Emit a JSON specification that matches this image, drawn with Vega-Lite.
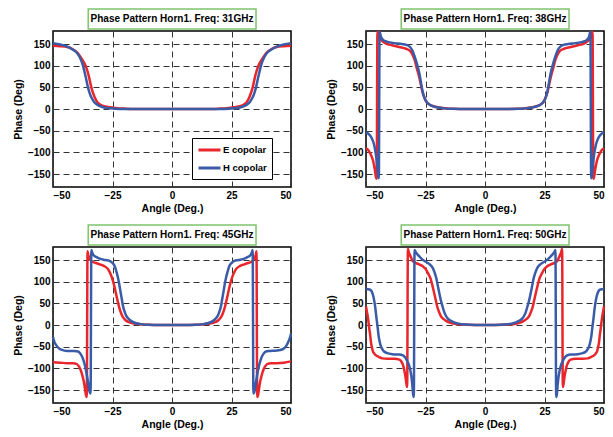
{
  "$schema": "https://vega.github.io/schema/vega-lite/v6.json",
  "padding": {"left": 12, "top": 7, "right": 4, "bottom": 4},
  "background": "white",
  "datasets": {
    "f31E": [{"a":-50,"p":146},{"a":-47,"p":145},{"a":-44,"p":143},{"a":-42,"p":139},{"a":-40,"p":131},{"a":-38.8,"p":123},{"a":-37.5,"p":112},{"a":-36.3,"p":100},{"a":-35,"p":77},{"a":-33.9,"p":50},{"a":-32.5,"p":27},{"a":-31.5,"p":17},{"a":-30.4,"p":11},{"a":-28,"p":6},{"a":-26,"p":4},{"a":-23,"p":2},{"a":-20,"p":1},{"a":-15,"p":0},{"a":-10,"p":0},{"a":0,"p":0},{"a":10,"p":0},{"a":15,"p":0},{"a":20,"p":1},{"a":23,"p":2},{"a":26,"p":4},{"a":28,"p":6},{"a":30.4,"p":11},{"a":31.5,"p":17},{"a":32.5,"p":27},{"a":33.9,"p":50},{"a":35,"p":77},{"a":36.3,"p":100},{"a":37.5,"p":112},{"a":38.8,"p":123},{"a":40,"p":131},{"a":42,"p":139},{"a":44,"p":143},{"a":47,"p":145},{"a":50,"p":146}],
    "f31H": [{"a":-50,"p":152},{"a":-47,"p":149},{"a":-44,"p":144},{"a":-42,"p":138},{"a":-40.2,"p":131},{"a":-38.8,"p":120},{"a":-37.4,"p":100},{"a":-36.3,"p":75},{"a":-35.3,"p":50},{"a":-34.5,"p":35},{"a":-33.9,"p":27},{"a":-32.8,"p":17},{"a":-31.8,"p":11.5},{"a":-30,"p":6},{"a":-29,"p":4},{"a":-26,"p":1.5},{"a":-24,"p":0.5},{"a":-20,"p":0},{"a":0,"p":0},{"a":20,"p":0},{"a":24,"p":0.5},{"a":26,"p":1.5},{"a":29,"p":4},{"a":30,"p":6},{"a":31.8,"p":11.5},{"a":32.8,"p":17},{"a":33.9,"p":27},{"a":34.5,"p":35},{"a":35.3,"p":50},{"a":36.3,"p":75},{"a":37.4,"p":100},{"a":38.8,"p":120},{"a":40.2,"p":131},{"a":42,"p":138},{"a":44,"p":144},{"a":47,"p":149},{"a":50,"p":152}],
    "f38E": [{"a":-50,"p":-91},{"a":-49,"p":-95},{"a":-48,"p":-105},{"a":-47,"p":-120},{"a":-46.3,"p":-140},{"a":-45.8,"p":-158},{"a":-45.5,"p":-161},{"a":-45.2,"p":178},{"a":-44.4,"p":165},{"a":-43.5,"p":158},{"a":-41.6,"p":151},{"a":-39,"p":147},{"a":-36,"p":143},{"a":-33.2,"p":139},{"a":-31.5,"p":134},{"a":-30.5,"p":126},{"a":-29.5,"p":112},{"a":-28.7,"p":95},{"a":-27.7,"p":75},{"a":-26.9,"p":55},{"a":-26.3,"p":40},{"a":-25.5,"p":27},{"a":-24.8,"p":18},{"a":-23.5,"p":11},{"a":-22,"p":7},{"a":-20,"p":4},{"a":-17,"p":2},{"a":-13,"p":0.5},{"a":-8,"p":0},{"a":0,"p":0},{"a":8,"p":0},{"a":13,"p":0.5},{"a":17,"p":2},{"a":20,"p":4},{"a":22,"p":7},{"a":23.5,"p":11},{"a":24.8,"p":18},{"a":25.5,"p":27},{"a":26.3,"p":40},{"a":26.9,"p":55},{"a":27.7,"p":75},{"a":28.7,"p":95},{"a":29.5,"p":112},{"a":30.5,"p":126},{"a":31.5,"p":134},{"a":33.2,"p":139},{"a":36,"p":143},{"a":39,"p":147},{"a":41.6,"p":151},{"a":43.5,"p":158},{"a":44.4,"p":165},{"a":45.2,"p":178},{"a":45.5,"p":-161},{"a":45.8,"p":-158},{"a":46.3,"p":-140},{"a":47,"p":-120},{"a":48,"p":-105},{"a":49,"p":-95},{"a":50,"p":-91}],
    "f38H": [{"a":-50,"p":-54},{"a":-49,"p":-57},{"a":-48,"p":-63},{"a":-47,"p":-75},{"a":-46.3,"p":-90},{"a":-45.6,"p":-115},{"a":-45.1,"p":-140},{"a":-44.8,"p":-158},{"a":-44.6,"p":-160},{"a":-44.3,"p":178},{"a":-43.7,"p":166},{"a":-42.5,"p":158},{"a":-41,"p":155},{"a":-38,"p":152},{"a":-35,"p":150},{"a":-33,"p":148},{"a":-31.5,"p":143},{"a":-30.5,"p":135},{"a":-29.5,"p":120},{"a":-28.4,"p":100},{"a":-27.5,"p":80},{"a":-26.8,"p":58},{"a":-26.2,"p":40},{"a":-25.4,"p":25},{"a":-24.5,"p":16},{"a":-23,"p":9},{"a":-21,"p":5},{"a":-18,"p":2},{"a":-14,"p":0.5},{"a":-8,"p":0},{"a":0,"p":0},{"a":8,"p":0},{"a":14,"p":0.5},{"a":18,"p":2},{"a":21,"p":5},{"a":23,"p":9},{"a":24.5,"p":16},{"a":25.4,"p":25},{"a":26.2,"p":40},{"a":26.8,"p":58},{"a":27.5,"p":80},{"a":28.4,"p":100},{"a":29.5,"p":120},{"a":30.5,"p":135},{"a":31.5,"p":143},{"a":33,"p":148},{"a":35,"p":150},{"a":38,"p":152},{"a":41,"p":155},{"a":42.5,"p":158},{"a":43.7,"p":166},{"a":44.3,"p":178},{"a":44.6,"p":-160},{"a":44.8,"p":-158},{"a":45.1,"p":-140},{"a":45.6,"p":-115},{"a":46.3,"p":-90},{"a":47,"p":-75},{"a":48,"p":-63},{"a":49,"p":-57},{"a":50,"p":-54}],
    "f45E": [{"a":-50,"p":-86},{"a":-47,"p":-87},{"a":-44,"p":-88},{"a":-41.5,"p":-88},{"a":-40,"p":-90},{"a":-39.2,"p":-95},{"a":-38.5,"p":-102},{"a":-38,"p":-110},{"a":-37.5,"p":-120},{"a":-37,"p":-132},{"a":-36.5,"p":-150},{"a":-36.1,"p":-163},{"a":-35.8,"p":-166},{"a":-35.5,"p":170},{"a":-35.2,"p":162},{"a":-34.8,"p":156},{"a":-33.9,"p":148},{"a":-32,"p":143},{"a":-30.4,"p":140},{"a":-28.5,"p":136},{"a":-26.9,"p":129},{"a":-26,"p":120},{"a":-24.8,"p":102},{"a":-23.9,"p":82},{"a":-23.2,"p":64},{"a":-22.6,"p":50},{"a":-22,"p":37},{"a":-21.3,"p":26},{"a":-20.6,"p":18},{"a":-19.5,"p":11},{"a":-17.8,"p":6},{"a":-15.5,"p":3},{"a":-13.5,"p":1.5},{"a":-10,"p":0.5},{"a":-5,"p":0},{"a":0,"p":0},{"a":5,"p":0},{"a":10,"p":0.5},{"a":13.5,"p":1.5},{"a":15.5,"p":3},{"a":17.8,"p":6},{"a":19.5,"p":11},{"a":20.6,"p":18},{"a":21.3,"p":26},{"a":22,"p":37},{"a":22.6,"p":50},{"a":23.2,"p":64},{"a":23.9,"p":82},{"a":24.8,"p":102},{"a":26,"p":120},{"a":26.9,"p":129},{"a":28.5,"p":136},{"a":30.4,"p":140},{"a":32,"p":143},{"a":33.9,"p":148},{"a":34.8,"p":156},{"a":35.2,"p":162},{"a":35.5,"p":170},{"a":35.8,"p":-166},{"a":36.1,"p":-163},{"a":36.5,"p":-150},{"a":37,"p":-132},{"a":37.5,"p":-120},{"a":38,"p":-110},{"a":38.5,"p":-102},{"a":39.2,"p":-95},{"a":40,"p":-90},{"a":41.5,"p":-88},{"a":44,"p":-88},{"a":47,"p":-87},{"a":50,"p":-84}],
    "f45H": [{"a":-50,"p":-28},{"a":-49.5,"p":-38},{"a":-48.6,"p":-47},{"a":-47.5,"p":-54},{"a":-46.5,"p":-57},{"a":-44,"p":-60},{"a":-41,"p":-60},{"a":-39.5,"p":-61},{"a":-38.5,"p":-66},{"a":-37.4,"p":-78},{"a":-36.6,"p":-93},{"a":-36,"p":-109},{"a":-35.4,"p":-128},{"a":-34.9,"p":-145},{"a":-34.5,"p":-156},{"a":-34.2,"p":-158},{"a":-33.9,"p":173},{"a":-33.5,"p":167},{"a":-32.9,"p":161},{"a":-31.5,"p":156},{"a":-30.4,"p":153},{"a":-28,"p":150},{"a":-26.2,"p":148},{"a":-25,"p":143},{"a":-24.1,"p":136},{"a":-23.3,"p":122},{"a":-22.7,"p":109},{"a":-22.2,"p":95},{"a":-21.7,"p":79},{"a":-21.1,"p":60},{"a":-20.6,"p":44},{"a":-19.9,"p":31},{"a":-19.2,"p":21},{"a":-18.2,"p":14},{"a":-17.1,"p":9},{"a":-15,"p":4},{"a":-13,"p":2},{"a":-10,"p":0.5},{"a":-5,"p":0},{"a":0,"p":0},{"a":5,"p":0},{"a":10,"p":0.5},{"a":13,"p":2},{"a":15,"p":4},{"a":17.1,"p":9},{"a":18.2,"p":14},{"a":19.2,"p":21},{"a":19.9,"p":31},{"a":20.6,"p":44},{"a":21.1,"p":60},{"a":21.7,"p":79},{"a":22.2,"p":95},{"a":22.7,"p":109},{"a":23.3,"p":122},{"a":24.1,"p":136},{"a":25,"p":143},{"a":26.2,"p":148},{"a":28,"p":150},{"a":30.4,"p":153},{"a":31.5,"p":156},{"a":32.9,"p":161},{"a":33.5,"p":167},{"a":33.9,"p":173},{"a":34.2,"p":-158},{"a":34.5,"p":-156},{"a":34.9,"p":-145},{"a":35.4,"p":-128},{"a":36,"p":-109},{"a":36.6,"p":-93},{"a":37.4,"p":-78},{"a":38.5,"p":-66},{"a":39.5,"p":-61},{"a":41,"p":-60},{"a":44,"p":-59},{"a":46.5,"p":-56},{"a":47.5,"p":-52},{"a":48.6,"p":-42},{"a":49.5,"p":-30},{"a":50,"p":-20}],
    "f50E": [{"a":-50,"p":43},{"a":-49.6,"p":30},{"a":-49.3,"p":21},{"a":-48.9,"p":5},{"a":-48.6,"p":-9},{"a":-48.2,"p":-25},{"a":-47.9,"p":-40},{"a":-47.5,"p":-52},{"a":-47.2,"p":-59},{"a":-46.5,"p":-66},{"a":-45.8,"p":-70},{"a":-44.5,"p":-74},{"a":-43.2,"p":-77},{"a":-41,"p":-78},{"a":-38,"p":-78},{"a":-36,"p":-80},{"a":-35.3,"p":-83},{"a":-34.8,"p":-88},{"a":-34.3,"p":-95},{"a":-33.9,"p":-105},{"a":-33.5,"p":-116},{"a":-33.2,"p":-128},{"a":-32.9,"p":-139},{"a":-32.7,"p":-143},{"a":-32.4,"p":176},{"a":-32,"p":168},{"a":-31.6,"p":162},{"a":-31,"p":155},{"a":-30.4,"p":148},{"a":-29,"p":143},{"a":-27.7,"p":140},{"a":-26,"p":135},{"a":-24.9,"p":129},{"a":-23.8,"p":118},{"a":-22.8,"p":106},{"a":-22.1,"p":91},{"a":-21.4,"p":75},{"a":-20.7,"p":58},{"a":-20,"p":41},{"a":-19.3,"p":30},{"a":-18.6,"p":21},{"a":-17.5,"p":14},{"a":-16.5,"p":10},{"a":-14.5,"p":5},{"a":-12.3,"p":2},{"a":-10,"p":1},{"a":-5,"p":0},{"a":0,"p":0},{"a":5,"p":0},{"a":10,"p":1},{"a":12.3,"p":2},{"a":14.5,"p":5},{"a":16.5,"p":10},{"a":17.5,"p":14},{"a":18.6,"p":21},{"a":19.3,"p":30},{"a":20,"p":41},{"a":20.7,"p":58},{"a":21.4,"p":75},{"a":22.1,"p":91},{"a":22.8,"p":106},{"a":23.8,"p":118},{"a":24.9,"p":129},{"a":26,"p":135},{"a":27.7,"p":140},{"a":29,"p":143},{"a":30.4,"p":148},{"a":31,"p":155},{"a":31.6,"p":162},{"a":32,"p":168},{"a":32.4,"p":176},{"a":32.7,"p":-143},{"a":32.9,"p":-139},{"a":33.2,"p":-128},{"a":33.5,"p":-116},{"a":33.9,"p":-105},{"a":34.3,"p":-95},{"a":34.8,"p":-88},{"a":35.3,"p":-83},{"a":36,"p":-80},{"a":38,"p":-78},{"a":41,"p":-78},{"a":43.2,"p":-77},{"a":44.5,"p":-74},{"a":45.8,"p":-70},{"a":46.5,"p":-66},{"a":47.2,"p":-59},{"a":47.5,"p":-52},{"a":47.9,"p":-40},{"a":48.2,"p":-25},{"a":48.6,"p":-9},{"a":48.9,"p":5},{"a":49.3,"p":21},{"a":49.6,"p":30},{"a":50,"p":43}],
    "f50H": [{"a":-50,"p":83},{"a":-48.5,"p":82},{"a":-47.9,"p":80},{"a":-47.2,"p":72},{"a":-46.6,"p":58},{"a":-46.1,"p":40},{"a":-45.6,"p":16},{"a":-45.1,"p":-6},{"a":-44.7,"p":-25},{"a":-44.2,"p":-40},{"a":-43.7,"p":-50},{"a":-43,"p":-57},{"a":-42.2,"p":-62},{"a":-40.2,"p":-66},{"a":-38,"p":-68},{"a":-36,"p":-68},{"a":-34.5,"p":-70},{"a":-33.5,"p":-75},{"a":-32.8,"p":-82},{"a":-31.9,"p":-93},{"a":-31.3,"p":-107},{"a":-30.8,"p":-124},{"a":-30.5,"p":-140},{"a":-30.2,"p":-160},{"a":-29.9,"p":-166},{"a":-29.6,"p":173},{"a":-29.1,"p":168},{"a":-28.4,"p":163},{"a":-27.7,"p":159},{"a":-26.5,"p":152},{"a":-24.9,"p":146},{"a":-23.5,"p":141},{"a":-22.1,"p":133},{"a":-21.3,"p":123},{"a":-20.5,"p":109},{"a":-19.9,"p":93},{"a":-19.3,"p":76},{"a":-18.6,"p":58},{"a":-17.9,"p":44},{"a":-17.2,"p":31},{"a":-16.5,"p":22},{"a":-15.5,"p":14},{"a":-14.4,"p":10},{"a":-13,"p":6},{"a":-11,"p":3},{"a":-8,"p":1},{"a":-4,"p":0},{"a":0,"p":0},{"a":4,"p":0},{"a":8,"p":1},{"a":11,"p":3},{"a":13,"p":6},{"a":14.4,"p":10},{"a":15.5,"p":14},{"a":16.5,"p":22},{"a":17.2,"p":31},{"a":17.9,"p":44},{"a":18.6,"p":58},{"a":19.3,"p":76},{"a":19.9,"p":93},{"a":20.5,"p":109},{"a":21.3,"p":123},{"a":22.1,"p":133},{"a":23.5,"p":141},{"a":24.9,"p":146},{"a":26.5,"p":152},{"a":27.7,"p":159},{"a":28.4,"p":163},{"a":29.1,"p":168},{"a":29.6,"p":173},{"a":29.9,"p":-166},{"a":30.2,"p":-160},{"a":30.5,"p":-140},{"a":30.8,"p":-124},{"a":31.3,"p":-107},{"a":31.9,"p":-93},{"a":32.8,"p":-82},{"a":33.5,"p":-75},{"a":34.5,"p":-70},{"a":36,"p":-68},{"a":38,"p":-68},{"a":40.2,"p":-66},{"a":42.2,"p":-62},{"a":43,"p":-57},{"a":43.7,"p":-50},{"a":44.2,"p":-40},{"a":44.7,"p":-25},{"a":45.1,"p":-6},{"a":45.6,"p":16},{"a":46.1,"p":40},{"a":46.6,"p":58},{"a":47.2,"p":72},{"a":47.9,"p":80},{"a":48.5,"p":82},{"a":50,"p":83}]
  },
  "columns": 2,
  "spacing": {"row": 60, "column": 75},
  "bounds": "flush",
  "resolve": {"scale": {"color": "shared"}, "legend": {"color": "shared"}},
  "concat": [
    {
      "width": 238, "height": 156,
      "layer": [
        {"data": {"name": "f31E"}, "mark": {"type": "line", "interpolate": "monotone", "strokeWidth": 2.5},
         "encoding": {"x": {"field": "a", "type": "quantitative", "title": "Angle (Deg.)", "scale": {"domain": [-50, 50], "nice": false}, "axis": {"values": [-50, -25, 0, 25, 50], "tickCount": 10}},
                      "y": {"field": "p", "type": "quantitative", "title": "Phase (Deg)", "scale": {"domain": [-180, 180], "nice": false}, "axis": {"values": [-150, -100, -50, 0, 50, 100, 150], "tickCount": 10}},
                      "color": {"datum": "E copolar", "scale": {"domain": ["E copolar", "H copolar"], "range": ["#e8262b", "#3a5ba8"]},
                                "legend": {"orient": "none", "legendX": 139, "legendY": 107, "title": null, "symbolType": "M-1,0H3", "symbolSize": 121, "symbolStrokeWidth": 3, "labelOffset": 12, "labelFont": "Liberation Sans", "labelFontWeight": "bold", "labelFontSize": 9.5, "labelColor": "black", "fillColor": "white", "strokeColor": "black", "padding": 5, "rowPadding": 5}}}},
        {"data": {"name": "f31H"}, "mark": {"type": "line", "interpolate": "monotone", "strokeWidth": 2.5},
         "encoding": {"x": {"field": "a", "type": "quantitative", "title": "Angle (Deg.)"}, "y": {"field": "p", "type": "quantitative", "title": "Phase (Deg)"}, "color": {"datum": "H copolar"}}},
        {"data": {"values": [{}]}, "mark": {"type": "rect", "fill": "white", "stroke": "#7ec46e", "strokeWidth": 1.5},
         "encoding": {"x": {"datum": -35.2}, "x2": {"datum": 35.3}, "y": {"datum": 230.8}, "y2": {"datum": 184.6}}},
        {"data": {"values": [{}]}, "mark": {"type": "text", "font": "Liberation Sans", "fontWeight": "bold", "fontSize": 10, "baseline": "middle", "color": "black"},
         "encoding": {"x": {"datum": 0}, "y": {"datum": 207.7}, "text": {"value": "Phase Pattern Horn1. Freq: 31GHz"}}}
      ]
    },
    {
      "width": 238, "height": 156,
      "layer": [
        {"data": {"name": "f38E"}, "mark": {"type": "line", "interpolate": "monotone", "strokeWidth": 2.5},
         "encoding": {"x": {"field": "a", "type": "quantitative", "title": "Angle (Deg.)", "scale": {"domain": [-50, 50], "nice": false}, "axis": {"values": [-50, -25, 0, 25, 50], "tickCount": 10}},
                      "y": {"field": "p", "type": "quantitative", "title": "Phase (Deg)", "scale": {"domain": [-180, 180], "nice": false}, "axis": {"values": [-150, -100, -50, 0, 50, 100, 150], "tickCount": 10}},
                      "color": {"datum": "E copolar"}}},
        {"data": {"name": "f38H"}, "mark": {"type": "line", "interpolate": "monotone", "strokeWidth": 2.5},
         "encoding": {"x": {"field": "a", "type": "quantitative", "title": "Angle (Deg.)"}, "y": {"field": "p", "type": "quantitative", "title": "Phase (Deg)"}, "color": {"datum": "H copolar"}}},
        {"data": {"values": [{}]}, "mark": {"type": "rect", "fill": "white", "stroke": "#7ec46e", "strokeWidth": 1.5},
         "encoding": {"x": {"datum": -35.2}, "x2": {"datum": 35.3}, "y": {"datum": 230.8}, "y2": {"datum": 184.6}}},
        {"data": {"values": [{}]}, "mark": {"type": "text", "font": "Liberation Sans", "fontWeight": "bold", "fontSize": 10, "baseline": "middle", "color": "black"},
         "encoding": {"x": {"datum": 0}, "y": {"datum": 207.7}, "text": {"value": "Phase Pattern Horn1. Freq: 38GHz"}}}
      ]
    },
    {
      "width": 238, "height": 156,
      "layer": [
        {"data": {"name": "f45E"}, "mark": {"type": "line", "interpolate": "monotone", "strokeWidth": 2.5},
         "encoding": {"x": {"field": "a", "type": "quantitative", "title": "Angle (Deg.)", "scale": {"domain": [-50, 50], "nice": false}, "axis": {"values": [-50, -25, 0, 25, 50], "tickCount": 10}},
                      "y": {"field": "p", "type": "quantitative", "title": "Phase (Deg)", "scale": {"domain": [-180, 180], "nice": false}, "axis": {"values": [-150, -100, -50, 0, 50, 100, 150], "tickCount": 10}},
                      "color": {"datum": "E copolar"}}},
        {"data": {"name": "f45H"}, "mark": {"type": "line", "interpolate": "monotone", "strokeWidth": 2.5},
         "encoding": {"x": {"field": "a", "type": "quantitative", "title": "Angle (Deg.)"}, "y": {"field": "p", "type": "quantitative", "title": "Phase (Deg)"}, "color": {"datum": "H copolar"}}},
        {"data": {"values": [{}]}, "mark": {"type": "rect", "fill": "white", "stroke": "#7ec46e", "strokeWidth": 1.5},
         "encoding": {"x": {"datum": -35.2}, "x2": {"datum": 35.3}, "y": {"datum": 230.8}, "y2": {"datum": 184.6}}},
        {"data": {"values": [{}]}, "mark": {"type": "text", "font": "Liberation Sans", "fontWeight": "bold", "fontSize": 10, "baseline": "middle", "color": "black"},
         "encoding": {"x": {"datum": 0}, "y": {"datum": 207.7}, "text": {"value": "Phase Pattern Horn1. Freq: 45GHz"}}}
      ]
    },
    {
      "width": 238, "height": 156,
      "layer": [
        {"data": {"name": "f50E"}, "mark": {"type": "line", "interpolate": "monotone", "strokeWidth": 2.5},
         "encoding": {"x": {"field": "a", "type": "quantitative", "title": "Angle (Deg.)", "scale": {"domain": [-50, 50], "nice": false}, "axis": {"values": [-50, -25, 0, 25, 50], "tickCount": 10}},
                      "y": {"field": "p", "type": "quantitative", "title": "Phase (Deg)", "scale": {"domain": [-180, 180], "nice": false}, "axis": {"values": [-150, -100, -50, 0, 50, 100, 150], "tickCount": 10}},
                      "color": {"datum": "E copolar"}}},
        {"data": {"name": "f50H"}, "mark": {"type": "line", "interpolate": "monotone", "strokeWidth": 2.5},
         "encoding": {"x": {"field": "a", "type": "quantitative", "title": "Angle (Deg.)"}, "y": {"field": "p", "type": "quantitative", "title": "Phase (Deg)"}, "color": {"datum": "H copolar"}}},
        {"data": {"values": [{}]}, "mark": {"type": "rect", "fill": "white", "stroke": "#7ec46e", "strokeWidth": 1.5},
         "encoding": {"x": {"datum": -35.2}, "x2": {"datum": 35.3}, "y": {"datum": 230.8}, "y2": {"datum": 184.6}}},
        {"data": {"values": [{}]}, "mark": {"type": "text", "font": "Liberation Sans", "fontWeight": "bold", "fontSize": 10, "baseline": "middle", "color": "black"},
         "encoding": {"x": {"datum": 0}, "y": {"datum": 207.7}, "text": {"value": "Phase Pattern Horn1. Freq: 50GHz"}}}
      ]
    }
  ],
  "config": {
    "font": "Liberation Sans",
    "view": {"stroke": "black", "strokeWidth": 1.5},
    "axis": {"labelFont": "Liberation Sans", "labelFontWeight": "bold", "labelFontSize": 10, "labelColor": "black", "labelOverlap": false,
             "titleFont": "Liberation Sans", "titleFontWeight": "bold", "titleFontSize": 10.5, "titleColor": "black",
             "grid": true, "gridDash": [6, 4], "gridColor": "#333", "gridWidth": 1, "gridOpacity": 1, "domain": false, "ticks": false, "labelPadding": 3},
    "axisX": {"titlePadding": 3},
    "axisY": {"titlePadding": 4}
  }
}
